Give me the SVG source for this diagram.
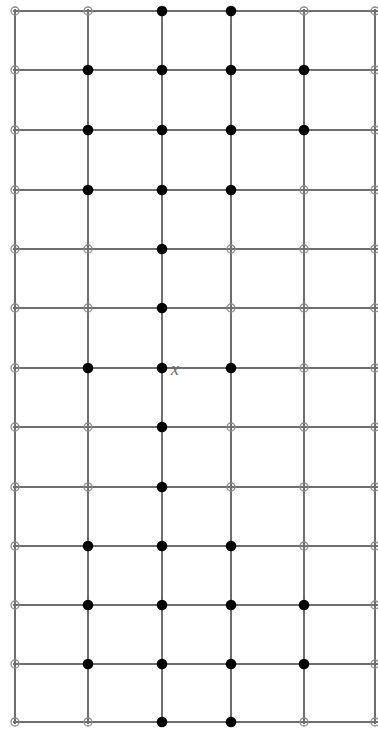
<svg xmlns="http://www.w3.org/2000/svg" width="378" height="731" viewBox="0 0 378 731">
<style>
.ln{stroke:#6e6e6e;stroke-width:2;fill:none}
.o{fill:none;stroke:#8a8a8a;stroke-width:1.3}
.f{fill:#000;stroke:none}
.lbl{font-family:"Liberation Serif",serif;font-style:italic;font-size:18px;fill:#6a6a6a}
</style>
<rect width="378" height="731" fill="#fff"/>
<g id="connectors">
<path class="ln" d="M15 9V724M88 9V724M162 9V724M231 9V724M304 9V724M375 9V724"/>
<path class="ln" d="M13 11H378M13 70H378M13 130H378M13 190H378M13 249H378M13 308H378M13 368H378M13 427H378M13 487H378M13 546H378M13 605H378M13 664H378M13 722H378"/>
</g>
<g id="nodes">
<g id="r0"><circle class="o" cx="15" cy="11" r="4"/><circle class="o" cx="88" cy="11" r="4"/><circle class="f" cx="162" cy="11" r="5.3"/><circle class="f" cx="231" cy="11" r="5.3"/><circle class="o" cx="304" cy="11" r="4"/><circle class="o" cx="375" cy="11" r="4"/></g>
<g id="r1"><circle class="o" cx="15" cy="70" r="4"/><circle class="f" cx="88" cy="70" r="5.3"/><circle class="f" cx="162" cy="70" r="5.3"/><circle class="f" cx="231" cy="70" r="5.3"/><circle class="f" cx="304" cy="70" r="5.3"/><circle class="o" cx="375" cy="70" r="4"/></g>
<g id="r2"><circle class="o" cx="15" cy="130" r="4"/><circle class="f" cx="88" cy="130" r="5.3"/><circle class="f" cx="162" cy="130" r="5.3"/><circle class="f" cx="231" cy="130" r="5.3"/><circle class="f" cx="304" cy="130" r="5.3"/><circle class="o" cx="375" cy="130" r="4"/></g>
<g id="r3"><circle class="o" cx="15" cy="190" r="4"/><circle class="f" cx="88" cy="190" r="5.3"/><circle class="f" cx="162" cy="190" r="5.3"/><circle class="f" cx="231" cy="190" r="5.3"/><circle class="o" cx="304" cy="190" r="4"/><circle class="o" cx="375" cy="190" r="4"/></g>
<g id="r4"><circle class="o" cx="15" cy="249" r="4"/><circle class="o" cx="88" cy="249" r="4"/><circle class="f" cx="162" cy="249" r="5.3"/><circle class="o" cx="231" cy="249" r="4"/><circle class="o" cx="304" cy="249" r="4"/><circle class="o" cx="375" cy="249" r="4"/></g>
<g id="r5"><circle class="o" cx="15" cy="308" r="4"/><circle class="o" cx="88" cy="308" r="4"/><circle class="f" cx="162" cy="308" r="5.3"/><circle class="o" cx="231" cy="308" r="4"/><circle class="o" cx="304" cy="308" r="4"/><circle class="o" cx="375" cy="308" r="4"/></g>
<g id="r6"><circle class="o" cx="15" cy="368" r="4"/><circle class="f" cx="88" cy="368" r="5.3"/><circle class="f" cx="162" cy="368" r="5.3"/><circle class="f" cx="231" cy="368" r="5.3"/><circle class="o" cx="304" cy="368" r="4"/><circle class="o" cx="375" cy="368" r="4"/><text class="lbl" x="171" y="375">x</text></g>
<g id="r7"><circle class="o" cx="15" cy="427" r="4"/><circle class="o" cx="88" cy="427" r="4"/><circle class="f" cx="162" cy="427" r="5.3"/><circle class="o" cx="231" cy="427" r="4"/><circle class="o" cx="304" cy="427" r="4"/><circle class="o" cx="375" cy="427" r="4"/></g>
<g id="r8"><circle class="o" cx="15" cy="487" r="4"/><circle class="o" cx="88" cy="487" r="4"/><circle class="f" cx="162" cy="487" r="5.3"/><circle class="o" cx="231" cy="487" r="4"/><circle class="o" cx="304" cy="487" r="4"/><circle class="o" cx="375" cy="487" r="4"/></g>
<g id="r9"><circle class="o" cx="15" cy="546" r="4"/><circle class="f" cx="88" cy="546" r="5.3"/><circle class="f" cx="162" cy="546" r="5.3"/><circle class="f" cx="231" cy="546" r="5.3"/><circle class="o" cx="304" cy="546" r="4"/><circle class="o" cx="375" cy="546" r="4"/></g>
<g id="r10"><circle class="o" cx="15" cy="605" r="4"/><circle class="f" cx="88" cy="605" r="5.3"/><circle class="f" cx="162" cy="605" r="5.3"/><circle class="f" cx="231" cy="605" r="5.3"/><circle class="f" cx="304" cy="605" r="5.3"/><circle class="o" cx="375" cy="605" r="4"/></g>
<g id="r11"><circle class="o" cx="15" cy="664" r="4"/><circle class="f" cx="88" cy="664" r="5.3"/><circle class="f" cx="162" cy="664" r="5.3"/><circle class="f" cx="231" cy="664" r="5.3"/><circle class="f" cx="304" cy="664" r="5.3"/><circle class="o" cx="375" cy="664" r="4"/></g>
<g id="r12"><circle class="o" cx="15" cy="722" r="4"/><circle class="o" cx="88" cy="722" r="4"/><circle class="f" cx="162" cy="722" r="5.3"/><circle class="f" cx="231" cy="722" r="5.3"/><circle class="o" cx="304" cy="722" r="4"/><circle class="o" cx="375" cy="722" r="4"/></g>
</g>
</svg>
